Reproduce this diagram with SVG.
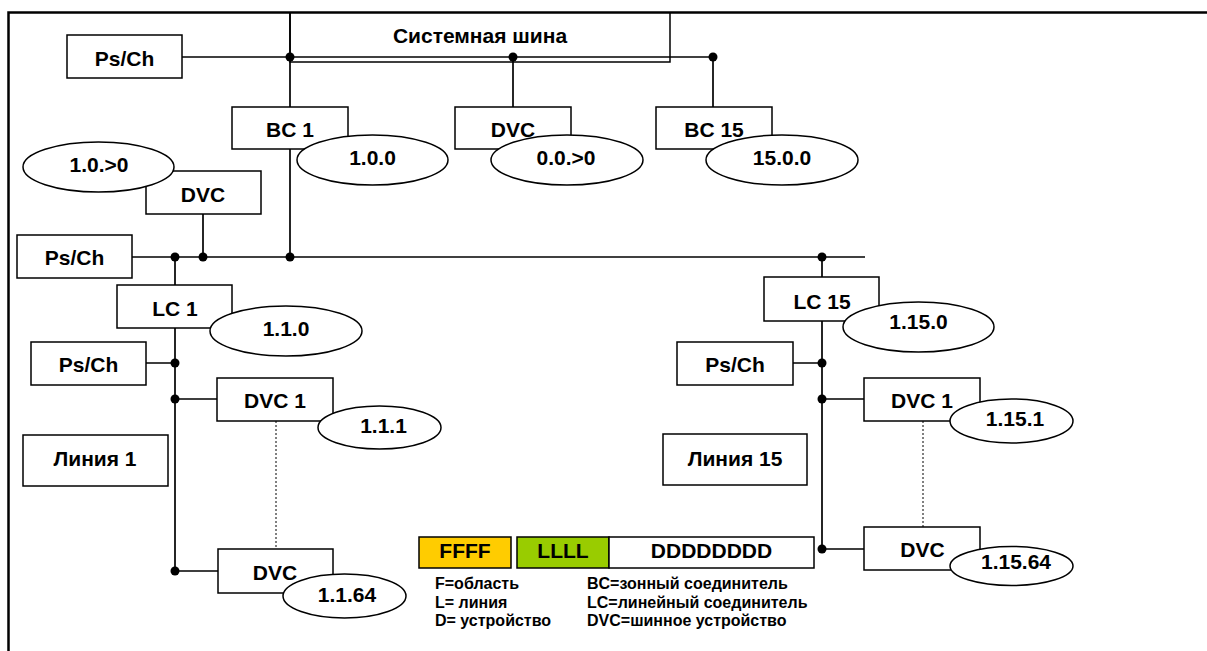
<svg xmlns="http://www.w3.org/2000/svg" width="1207" height="651" viewBox="0 0 1207 651">
<style>
  .box{fill:#fff;stroke:#000;stroke-width:1.5}
  .ell{fill:#fff;stroke:#000;stroke-width:1.5}
  .t{font-family:"Liberation Sans",Arial,sans-serif;font-weight:bold;font-size:21px;fill:#000;text-anchor:middle}
  .lg{font-family:"Liberation Sans",Arial,sans-serif;font-weight:bold;font-size:16px;fill:#000}
  .ln{fill:none;stroke:#000;stroke-width:1.7}
  .dot{fill:#000}
  .dash{fill:none;stroke:#000;stroke-width:1;stroke-dasharray:2 2}
</style>
<rect width="1207" height="651" fill="#fff"/>
<path d="M1207,12.5 H8.5 V651" fill="none" stroke="#000" stroke-width="2.5"/>

<g id="connectors">
  <path class="ln" d="M182,57 H713"/>
  <path class="ln" d="M290,12 V107 M290,149 V257"/>
  <path class="ln" d="M513,57 V107"/>
  <path class="ln" d="M713,57 V107"/>
  <path class="ln" d="M203,214 V257"/>
  <path class="ln" d="M132,257 H865"/>
  <path class="ln" d="M175,257 V285 M175,328 V571"/>
  <path class="ln" d="M146,363 H175 M175,399 H217 M175,571 H218"/>
  <path class="ln" d="M822,257 V277 M822,321 V549"/>
  <path class="ln" d="M793,363 H822 M822,399 H864 M822,549 H864"/>
  <path class="dash" d="M276,421 V549"/>
  <path class="dash" d="M923,421 V527"/>
  <circle class="dot" cx="290" cy="57" r="4.5"/>
  <circle class="dot" cx="513" cy="57" r="4.5"/>
  <circle class="dot" cx="713" cy="57" r="4.5"/>
  <circle class="dot" cx="175" cy="257" r="4.5"/>
  <circle class="dot" cx="203" cy="257" r="4.5"/>
  <circle class="dot" cx="290" cy="257" r="4.5"/>
  <circle class="dot" cx="822" cy="257" r="4.5"/>
  <circle class="dot" cx="175" cy="363" r="4.5"/>
  <circle class="dot" cx="175" cy="399" r="4.5"/>
  <circle class="dot" cx="175" cy="571" r="4.5"/>
  <circle class="dot" cx="822" cy="363" r="4.5"/>
  <circle class="dot" cx="822" cy="399" r="4.5"/>
  <circle class="dot" cx="822" cy="549" r="4.5"/>
</g>

<g id="systembus">
  <path d="M290,12 V62 H670 V12" fill="none" stroke="#000" stroke-width="1.5"/>
  <text class="t" x="480" y="43">Системная шина</text>
</g>

<g id="psch-top"><rect class="box" x="67" y="35" width="115" height="43"/><text class="t" x="124.5" y="65.5">Ps/Ch</text></g>

<g id="bc1"><rect class="box" x="232" y="107" width="116" height="42"/><text class="t" x="290" y="137">BC 1</text></g>
<g id="addr-100"><ellipse class="ell" cx="372.5" cy="160" rx="75.5" ry="25"/><text class="t" x="372.5" y="165">1.0.0</text></g>

<g id="dvc-top"><rect class="box" x="455" y="107" width="116" height="42"/><text class="t" x="513" y="137">DVC</text></g>
<g id="addr-000"><ellipse class="ell" cx="567" cy="160" rx="76" ry="25"/><text class="t" x="566" y="165">0.0.&gt;0</text></g>

<g id="bc15"><rect class="box" x="656" y="107" width="116" height="42"/><text class="t" x="714" y="137">BC 15</text></g>
<g id="addr-1500"><ellipse class="ell" cx="782" cy="160" rx="76" ry="25"/><text class="t" x="782" y="165">15.0.0</text></g>

<g id="dvc-area"><rect class="box" x="146" y="171" width="115" height="43"/><text class="t" x="203" y="202">DVC</text></g>
<g id="addr-10"><ellipse class="ell" cx="98.5" cy="167" rx="75.5" ry="25"/><text class="t" x="99" y="172">1.0.&gt;0</text></g>

<g id="psch-mid"><rect class="box" x="17" y="235" width="115" height="43"/><text class="t" x="74.5" y="265">Ps/Ch</text></g>

<g id="lc1"><rect class="box" x="117" y="285" width="115" height="43"/><text class="t" x="175" y="316">LC 1</text></g>
<g id="addr-110"><ellipse class="ell" cx="286" cy="331" rx="76" ry="25"/><text class="t" x="286" y="336">1.1.0</text></g>

<g id="psch-l1"><rect class="box" x="31" y="342" width="115" height="43"/><text class="t" x="88.5" y="372">Ps/Ch</text></g>

<g id="dvc1-l1"><rect class="box" x="217" y="378" width="116" height="43"/><text class="t" x="275" y="408">DVC 1</text></g>
<g id="addr-111"><ellipse class="ell" cx="379.5" cy="427.5" rx="61.5" ry="21.5"/><text class="t" x="383.5" y="433">1.1.1</text></g>

<g id="line1"><rect class="box" x="23" y="435" width="145" height="51"/><text class="t" x="95" y="466">Линия 1</text></g>

<g id="dvc64-l1"><rect class="box" x="218" y="549" width="115" height="44"/><text class="t" x="275" y="580">DVC</text></g>
<g id="addr-1164"><ellipse class="ell" cx="344.5" cy="596" rx="61.5" ry="22"/><text class="t" x="347" y="602">1.1.64</text></g>

<g id="lc15"><rect class="box" x="764" y="277" width="115" height="44"/><text class="t" x="822" y="309">LC 15</text></g>
<g id="addr-1150"><ellipse class="ell" cx="918.5" cy="327" rx="75.5" ry="25"/><text class="t" x="918.5" y="329">1.15.0</text></g>

<g id="psch-l15"><rect class="box" x="677" y="342" width="116" height="43"/><text class="t" x="735" y="372">Ps/Ch</text></g>

<g id="dvc1-l15"><rect class="box" x="864" y="378" width="116" height="43"/><text class="t" x="922" y="408">DVC 1</text></g>
<g id="addr-1151"><ellipse class="ell" cx="1011.5" cy="421" rx="61.5" ry="22"/><text class="t" x="1015" y="426">1.15.1</text></g>

<g id="line15"><rect class="box" x="663" y="434" width="144" height="51"/><text class="t" x="735" y="466">Линия 15</text></g>

<g id="dvc64-l15"><rect class="box" x="864" y="527" width="116" height="43"/><text class="t" x="922.5" y="557">DVC</text></g>
<g id="addr-11564"><ellipse class="ell" cx="1011.5" cy="566" rx="61.5" ry="19.5"/><text class="t" x="1016" y="569">1.15.64</text></g>

<g id="format">
  <rect x="419" y="537" width="92" height="31" fill="#FFCC00" stroke="#000" stroke-width="1.5"/>
  <text class="t" x="465" y="558">FFFF</text>
  <rect x="517" y="537" width="92" height="31" fill="#99CC00" stroke="#000" stroke-width="1.5"/>
  <text class="t" x="563" y="558">LLLL</text>
  <rect x="609" y="537" width="205" height="31" fill="#fff" stroke="#000" stroke-width="1.5"/>
  <text class="t" x="711.5" y="558">DDDDDDDD</text>
</g>

<g id="legend">
  <text class="lg" x="435" y="589">F=область</text>
  <text class="lg" x="435" y="608">L= линия</text>
  <text class="lg" x="435" y="626">D= устройство</text>
  <text class="lg" x="587" y="589">BC=зонный соединитель</text>
  <text class="lg" x="587" y="608">LC=линейный соединитель</text>
  <text class="lg" x="587" y="626">DVC=шинное устройство</text>
</g>
</svg>
